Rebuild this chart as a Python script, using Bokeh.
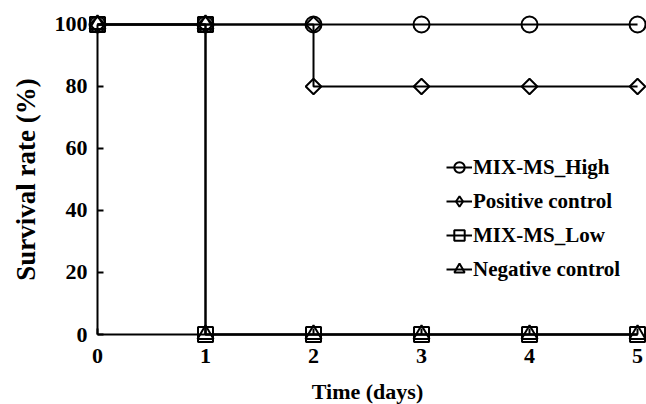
import math
from bokeh.plotting import figure
from bokeh.models import Range1d, Legend, LegendItem, FixedTicker
from bokeh.embed import file_html
from bokeh.resources import INLINE

# ---- data ----
high_x = [0, 1, 2, 3, 4, 5]
high_y = [100, 100, 100, 100, 100, 100]
pos_x = [0, 1, 2, 2, 3, 4, 5]
pos_y = [100, 100, 100, 80, 80, 80, 80]
low_x = [0, 1, 1, 2, 3, 4, 5]
low_y = [100, 100, 0, 0, 0, 0, 0]
neg_x = [0, 1, 1, 2, 3, 4, 5]
neg_y = [100, 100, 0, 0, 0, 0, 0]
series_names = ["MIX-MS_High", "Positive control", "MIX-MS_Low", "Negative control"]
x_ticks = [0, 1, 2, 3, 4, 5]
y_ticks = [0, 20, 40, 60, 80, 100]

FONT = "Liberation Serif"

p = figure(width=646, height=404, output_backend="svg", toolbar_location=None,
           x_range=Range1d(-0.898, 5.083), y_range=Range1d(-22.58, 107.74),
           min_border_left=0, min_border_right=0, min_border_top=0, min_border_bottom=0)
p.outline_line_color = None
p.xgrid.visible = False
p.ygrid.visible = False
p.background_fill_color = "white"
p.border_fill_color = "white"

for ax in (p.xaxis[0], p.yaxis[0]):
    ax.fixed_location = 0
    ax.axis_line_color = "black"
    ax.axis_line_width = 2
    ax.major_tick_line_color = "black"
    ax.major_tick_line_width = 2
    ax.major_tick_in = 6
    ax.major_tick_out = 0
    ax.minor_tick_line_color = None
    ax.major_label_text_font = FONT
    ax.major_label_text_font_style = "bold"
    ax.major_label_text_font_size = "22px"
    ax.major_label_text_color = "black"
    ax.axis_label_text_font = FONT
    ax.axis_label_text_font_style = "bold"
    ax.axis_label_text_color = "black"

p.xaxis[0].ticker = FixedTicker(ticks=x_ticks)
p.yaxis[0].ticker = FixedTicker(ticks=y_ticks)
p.xaxis[0].bounds = (0, 5)
p.yaxis[0].bounds = (0, 100)
p.xaxis[0].axis_label = "Time (days)"
p.yaxis[0].axis_label = "Survival rate (%)"
p.xaxis[0].axis_label_text_font_size = "22px"
p.yaxis[0].axis_label_text_font_size = "27px"
p.xaxis[0].major_label_standoff = 14
p.yaxis[0].major_label_standoff = 10
p.xaxis[0].axis_label_standoff = 13
p.yaxis[0].axis_label_standoff = 11

# (plot marker, size, angle, legend marker)
marker_specs = [("circle", 16, 0.0, "circle"), ("square", 11, math.pi / 4, "diamond"),
                ("square", 15, 0.0, "square"), ("triangle", 16, 0.0, "triangle")]
data = [(high_x, high_y), (pos_x, pos_y), (low_x, low_y), (neg_x, neg_y)]
items = []
for name, (xs, ys), (mk, sz, ang, lmk) in zip(series_names, data, marker_specs):
    ln = p.line(xs, ys, line_color="black", line_width=2)
    sc = p.scatter(xs, ys, marker=mk, size=sz, angle=ang, fill_color=None,
                   line_color="black", line_width=2)
    if lmk != mk:
        # legend-only glyph (zero size on the plot, hidden under the real marker)
        lg = p.scatter(xs, ys, marker=lmk, size=0, fill_color=None,
                       line_color="black", line_width=2)
        rends = [ln, lg]
    else:
        rends = [ln, sc]
    items.append(LegendItem(label=name, renderers=rends))

legend = Legend(items=items, location=(446, 122))
legend.label_text_font = FONT
legend.label_text_font_style = "bold"
legend.label_text_font_size = "21px"
legend.label_text_color = "black"
legend.glyph_width = 26
legend.glyph_height = 26
legend.spacing = 8
legend.padding = 0
legend.margin = 0
legend.label_standoff = 1
legend.border_line_color = None
legend.background_fill_alpha = 0
p.add_layout(legend, "center")

open("out.html", "w").write(file_html(p, INLINE))
